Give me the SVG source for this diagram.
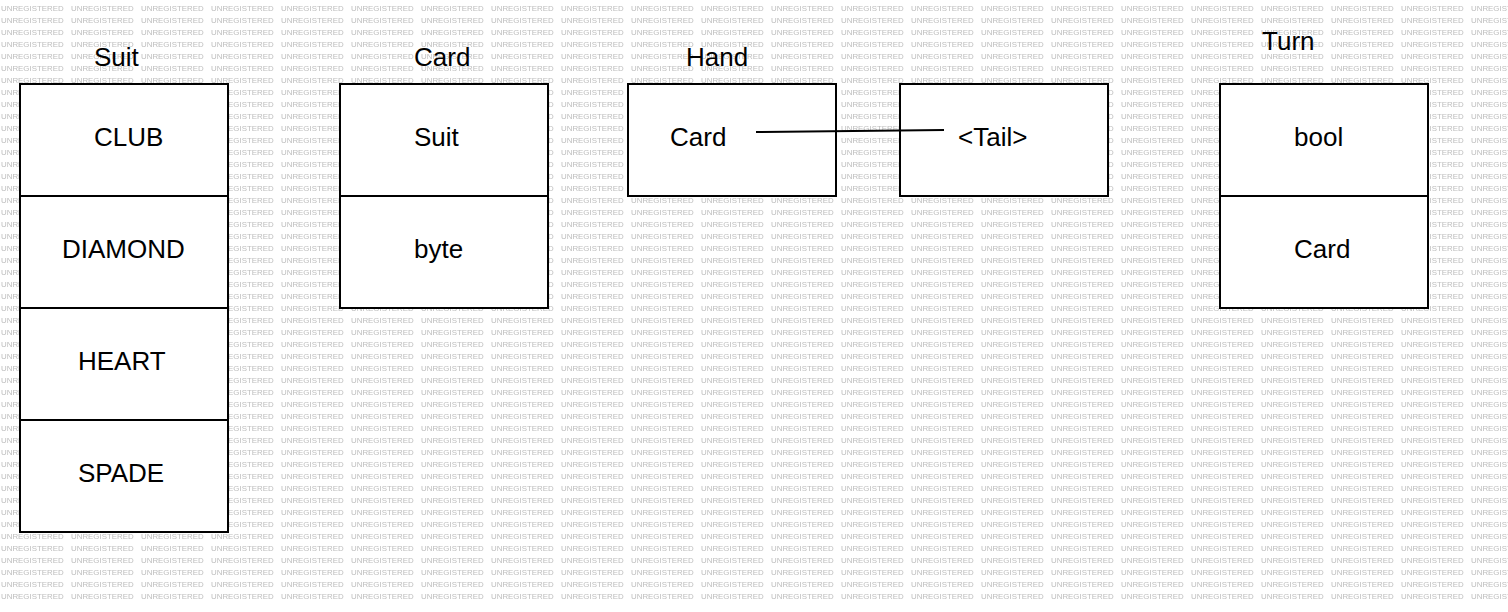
<svg xmlns="http://www.w3.org/2000/svg" width="1508" height="612" viewBox="0 0 1508 612">
<style>
.box{fill:#fff;stroke:#000;stroke-width:2}
.t{font-family:"Liberation Sans",Arial,sans-serif;font-size:26px;fill:#000}
.wm{font-family:"Liberation Sans",Arial,sans-serif;font-size:7.9px;fill:#bdbdbd}
.conn{stroke:#000;stroke-width:2;fill:none}
</style>
<defs>
<pattern id="wm" x="0" y="0" width="70" height="12" patternUnits="userSpaceOnUse">
<text class="wm" x="1" y="11">UNREGISTERED</text>
</pattern>
</defs>
<rect x="0" y="0" width="1508" height="612" fill="#fff"/>
<rect x="0" y="0" width="1508" height="600" fill="url(#wm)"/>
<g id="suit">
<text class="t" x="94" y="66">Suit</text>
<rect class="box" x="20" y="84" width="208" height="112"/>
<rect class="box" x="20" y="196" width="208" height="112"/>
<rect class="box" x="20" y="308" width="208" height="112"/>
<rect class="box" x="20" y="420" width="208" height="112"/>
<text class="t" x="94" y="146">CLUB</text>
<text class="t" x="62" y="258">DIAMOND</text>
<text class="t" x="78" y="370">HEART</text>
<text class="t" x="78" y="482">SPADE</text>
</g>
<g id="card">
<text class="t" x="414" y="66">Card</text>
<rect class="box" x="340" y="84" width="208" height="112"/>
<rect class="box" x="340" y="196" width="208" height="112"/>
<text class="t" x="414" y="146">Suit</text>
<text class="t" x="414" y="258">byte</text>
</g>
<g id="hand">
<text class="t" x="686" y="66">Hand</text>
<rect class="box" x="628" y="84" width="208" height="112"/>
<text class="t" x="670" y="146">Card</text>
</g>
<g id="tail">
<rect class="box" x="900" y="84" width="208" height="112"/>
<text class="t" x="958" y="146">&lt;Tail&gt;</text>
</g>
<g id="turn">
<text class="t" x="1262" y="50">Turn</text>
<rect class="box" x="1220" y="84" width="208" height="112"/>
<rect class="box" x="1220" y="196" width="208" height="112"/>
<text class="t" x="1294" y="146">bool</text>
<text class="t" x="1294" y="258">Card</text>
</g>
<g id="connectors">
<line class="conn" x1="756" y1="132" x2="944" y2="130"/>
</g>
</svg>
